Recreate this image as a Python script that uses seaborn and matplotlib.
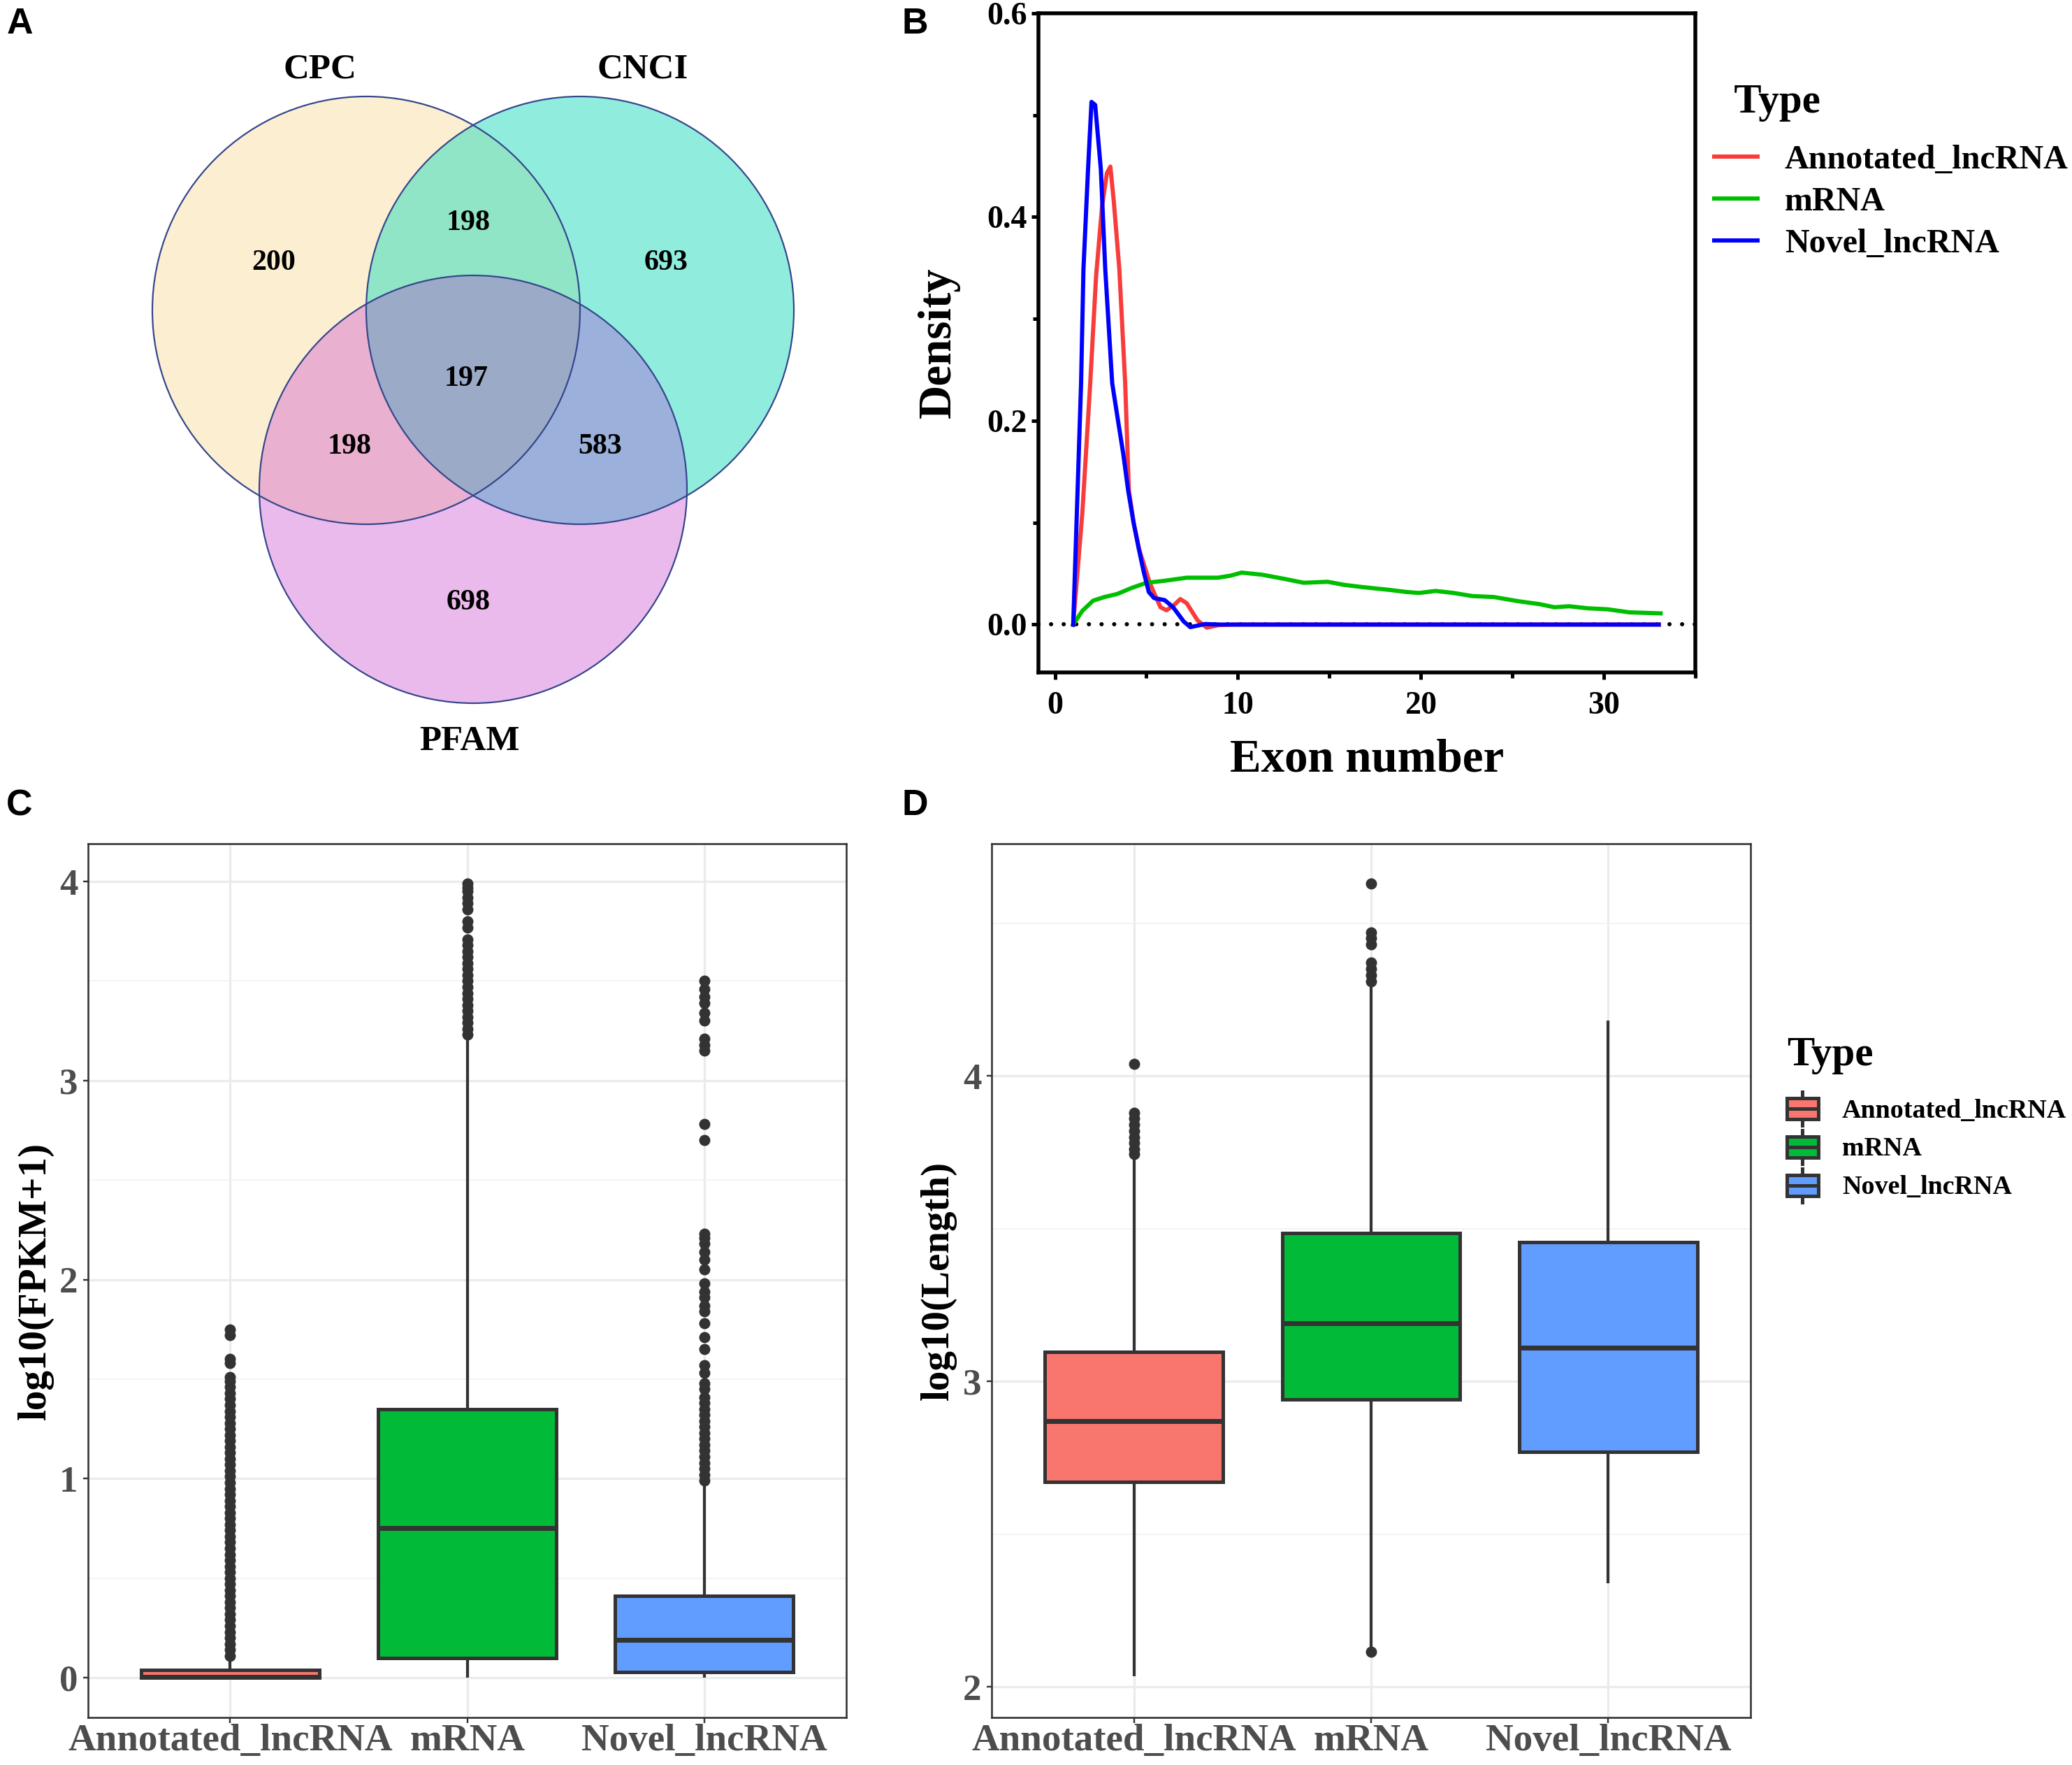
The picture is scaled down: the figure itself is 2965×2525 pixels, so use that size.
import numpy as np
import pandas as pd
import matplotlib
matplotlib.use("Agg")
import matplotlib.pyplot as plt
import seaborn as sns
from matplotlib.patches import Circle, Rectangle, Patch
from matplotlib.lines import Line2D
from matplotlib.legend_handler import HandlerBase
from matplotlib.ticker import MultipleLocator, FormatStrFormatter

# ---------------- data ----------------
types = ["Annotated_lncRNA", "mRNA", "Novel_lncRNA"]

# Panel A (Venn)
venn_set_names = ["CPC", "CNCI", "PFAM"]
venn_region_codes = ["100", "010", "001", "110", "101", "011", "111"]
venn_region_counts = [200, 693, 698, 198, 198, 583, 197]

# Panel B (exon number density)
annot_exon = [1.0, 1.5, 1.93, 2.25, 2.58, 2.84, 3.03, 3.22, 3.52, 3.84, 4.04, 4.3, 4.6,
              5.2, 5.77, 6.1, 6.5, 6.85, 7.2, 7.8, 8.3, 8.95, 9.9, 33.0]
annot_density = [0.0, 0.11, 0.237, 0.342, 0.411, 0.443, 0.4495, 0.415, 0.349, 0.237, 0.132,
                 0.10, 0.074, 0.040, 0.017, 0.014, 0.019, 0.025, 0.021, 0.004, -0.003,
                 -0.0005, 0.0, 0.0]
mrna_exon = [1.0, 1.5, 2.09, 2.7, 3.4, 4.2, 5.0, 6.0, 7.2, 8.9, 9.6, 10.2, 11.3, 12.5, 13.6,
             14.9, 15.8, 16.7, 18.3, 19.2, 19.9, 20.8, 21.8, 22.8, 24.0, 25.3, 26.5, 27.3,
             28.1, 29.1, 30.2, 31.4, 33.1]
mrna_density = [0.0, 0.0135, 0.0235, 0.027, 0.030, 0.036, 0.041, 0.043, 0.046, 0.046, 0.048,
                0.051, 0.049, 0.045, 0.041, 0.042, 0.039, 0.037, 0.034, 0.032, 0.031, 0.033,
                0.031, 0.028, 0.027, 0.023, 0.020, 0.017, 0.018, 0.016, 0.015, 0.012, 0.011]
novel_exon = [1.0, 1.43, 1.56, 1.81, 2.0, 2.2, 2.51, 2.75, 2.95, 3.13, 3.45, 3.74, 4.0, 4.3,
              4.6, 4.85, 5.13, 5.42, 6.0, 6.46, 7.04, 7.4, 8.2, 9.0, 33.0]
novel_density = [0.0, 0.237, 0.349, 0.447, 0.513, 0.51, 0.447, 0.349, 0.29, 0.237, 0.2, 0.167,
                 0.132, 0.10, 0.073, 0.052, 0.032, 0.026, 0.024, 0.017, 0.003, -0.0025,
                 0.0005, 0.0, 0.0]

# Panel C (log10(FPKM+1)) box statistics per type
fpkm_whisker_low = [0.0, 0.0, 0.0]
fpkm_q1 = [0.0, 0.10, 0.03]
fpkm_median = [0.003, 0.75, 0.19]
fpkm_q3 = [0.04, 1.35, 0.41]
fpkm_whisker_high = [0.095, 3.22, 0.975]
annot_fpkm_outliers = [0.11, 0.14, 0.17, 0.20, 0.23, 0.26, 0.29, 0.32, 0.35, 0.38, 0.41, 0.44,
                       0.47, 0.50, 0.53, 0.56, 0.59, 0.62, 0.65, 0.68, 0.71, 0.74, 0.77, 0.80,
                       0.83, 0.86, 0.89, 0.92, 0.95, 0.98, 1.01, 1.04, 1.07, 1.10, 1.13, 1.16,
                       1.19, 1.22, 1.25, 1.28, 1.31, 1.34, 1.37, 1.40, 1.43, 1.46, 1.49, 1.51,
                       1.58, 1.60, 1.72, 1.75]
mrna_fpkm_outliers = [3.23, 3.26, 3.29, 3.32, 3.35, 3.38, 3.41, 3.44, 3.47, 3.50, 3.53, 3.56,
                      3.59, 3.62, 3.65, 3.68, 3.71, 3.77, 3.80, 3.86, 3.89, 3.92, 3.95, 3.97,
                      3.99]
novel_fpkm_outliers = [0.99, 1.02, 1.05, 1.08, 1.11, 1.14, 1.17, 1.20, 1.23, 1.26, 1.29, 1.32,
                       1.35, 1.38, 1.41, 1.45, 1.48, 1.53, 1.57, 1.65, 1.71, 1.78, 1.84, 1.87,
                       1.91, 1.94, 1.98, 2.05, 2.10, 2.14, 2.18, 2.21, 2.23, 2.70, 2.78, 3.15,
                       3.18, 3.21, 3.30, 3.34, 3.39, 3.42, 3.46, 3.50]

# Panel D (log10(Length)) box statistics per type
len_whisker_low = [2.035, 2.13, 2.34]
len_q1 = [2.67, 2.94, 2.77]
len_median = [2.87, 3.19, 3.11]
len_q3 = [3.097, 3.485, 3.456]
len_whisker_high = [3.73, 4.30, 4.18]
annot_len_outliers = [3.745, 3.76, 3.78, 3.80, 3.82, 3.84, 3.86, 3.88, 4.04]
mrna_len_outliers = [2.115, 4.31, 4.33, 4.35, 4.37, 4.43, 4.45, 4.47, 4.63]
novel_len_outliers = []

# ---------------- style ----------------
W, H, DPI = 2965, 2525, 100
PT = 72.0 / DPI          # pixel -> point
SERIF = ["Liberation Serif", "DejaVu Serif"]
SANS = ["Liberation Sans", "DejaVu Sans"]
plt.rcParams["font.family"] = SERIF
plt.rcParams["font.weight"] = "bold"

line_colors = ["#F83B3B", "#00BE00", "#0000FF"]
box_colors = ["#F8766D", "#00BA38", "#619CFF"]
venn_colors = {"100": "#FCEFD1", "010": "#90EDDE", "001": "#EBBAED",
               "110": "#90E5C6", "101": "#EAB0CF", "011": "#9BB0DB", "111": "#9BAAC6"}
GRAY20 = "#333333"
GRAY30 = "#4D4D4D"

fig = plt.figure(figsize=(W / DPI, H / DPI), dpi=DPI)


def add_ax(l, t, r, b):
    return fig.add_axes([l / W, 1 - b / H, (r - l) / W, (b - t) / H])


# ---------------- panel A : Venn ----------------
axA = add_ax(0, 0, 1300, 1130)
axA.set_xlim(0, 1300)
axA.set_ylim(1130, 0)
axA.axis("off")
centers = [(524, 444), (830, 444), (677, 700)]
radius = 306
xs = np.arange(0, 1300) + 0.5
ys = np.arange(0, 1130) + 0.5
X, Y = np.meshgrid(xs, ys)
inside = [((X - cx) ** 2 + (Y - cy) ** 2) <= radius ** 2 for cx, cy in centers]
img = np.zeros((len(ys), len(xs), 4))
for code in venn_region_codes:
    mask = np.ones_like(X, dtype=bool)
    for k, ch in enumerate(code):
        mask &= inside[k] if ch == "1" else ~inside[k]
    img[mask] = matplotlib.colors.to_rgba(venn_colors[code])
axA.imshow(img, extent=(0, 1300, 1130, 0), interpolation="antialiased", aspect="auto", zorder=1)
for cx, cy in centers:
    axA.add_patch(Circle((cx, cy), radius, fill=False, ec="#34468C", lw=2.2 * PT, zorder=2))

label_pos = [(458, 100), (920, 100), (672, 1061)]
for name, (lx, ly) in zip(venn_set_names, label_pos):
    axA.text(lx, ly, name, ha="center", va="center", fontsize=51 * PT, fontweight="bold",
             family=SERIF)
count_pos = {"100": (392, 376), "010": (953, 376), "001": (670, 862), "110": (670, 319),
             "101": (500, 639), "011": (859, 639), "111": (667, 542)}
for code, cnt in zip(venn_region_codes, venn_region_counts):
    px, py = count_pos[code]
    axA.text(px, py, str(cnt), ha="center", va="center", fontsize=42 * PT, fontweight="bold",
             family=SERIF)

# ---------------- panel B : density ----------------
axB = add_ax(1486, 19, 2426, 962)
dfB = pd.concat([
    pd.DataFrame({"Type": types[0], "Exon": annot_exon, "Density": annot_density}),
    pd.DataFrame({"Type": types[1], "Exon": mrna_exon, "Density": mrna_density}),
    pd.DataFrame({"Type": types[2], "Exon": novel_exon, "Density": novel_density}),
], ignore_index=True)
axB.axhline(0, color="black", lw=6 * PT, ls=(0, (0.01, 3.0)), dash_capstyle="round", zorder=1)
sns.lineplot(data=dfB, x="Exon", y="Density", hue="Type", hue_order=types,
             palette=dict(zip(types, line_colors)), estimator=None, sort=False,
             lw=6 * PT, legend=False, ax=axB, zorder=3)
axB.set_xlim(-0.9, 35)
axB.set_ylim(-0.047, 0.6)
axB.xaxis.set_major_locator(MultipleLocator(10))
axB.xaxis.set_minor_locator(MultipleLocator(5))
axB.yaxis.set_major_locator(MultipleLocator(0.2))
axB.yaxis.set_minor_locator(MultipleLocator(0.1))
axB.yaxis.set_major_formatter(FormatStrFormatter("%.1f"))
for s in axB.spines.values():
    s.set_linewidth(5.5 * PT)
    s.set_color("black")
axB.tick_params(which="major", direction="out", length=10 * PT, width=5 * PT, color="black",
                labelsize=46 * PT, labelcolor="black")
axB.tick_params(which="minor", direction="out", length=8 * PT, width=5 * PT, color="black")
axB.tick_params(axis="x", which="major", pad=17 * PT)
axB.tick_params(axis="y", which="major", pad=6 * PT)
for lab in axB.get_xticklabels() + axB.get_yticklabels():
    lab.set_fontweight("bold")
axB.set_xlabel("Exon number", fontsize=67 * PT, fontweight="bold")
axB.set_ylabel("Density", fontsize=67 * PT, fontweight="bold")
axB.xaxis.set_label_coords(0.5, -0.10)
axB.yaxis.set_label_coords(-0.119, 0.5)
axB.grid(False)
line_handles = [Line2D([], [], color=c, lw=6 * PT) for c in line_colors]
legB = axB.legend(line_handles, types, title="  Type", loc="upper left",
                  bbox_to_anchor=(2453 / W, 1 - 120 / H), bbox_transform=fig.transFigure,
                  frameon=False, borderpad=0, borderaxespad=0,
                  prop=dict(family=SERIF, weight="bold", size=48 * PT),
                  title_fontproperties=dict(family=SERIF, weight="bold", size=59 * PT),
                  handlelength=1.3, handletextpad=0.8, labelspacing=0.33, alignment="left")
legB._legend_box.sep = 33 * PT


# ---------------- panels C and D : boxplots ----------------
def build_box_df(wlo, q1, med, q3, whi, outliers, n=1000):
    rows = []
    for t, a, b, c, d, e, o in zip(types, wlo, q1, med, q3, whi, outliers):
        vals = [a] + [b] * n + [c] * n + [d] * n + [e] + list(o)
        rows.append(pd.DataFrame({"Type": t, "value": vals}))
    return pd.concat(rows, ignore_index=True)


dfC = build_box_df(fpkm_whisker_low, fpkm_q1, fpkm_median, fpkm_q3, fpkm_whisker_high,
                   [annot_fpkm_outliers, mrna_fpkm_outliers, novel_fpkm_outliers])
dfD = build_box_df(len_whisker_low, len_q1, len_median, len_q3, len_whisker_high,
                   [annot_len_outliers, mrna_len_outliers, novel_len_outliers])

axC = add_ax(126, 1207, 1211, 2457)
axD = add_ax(1419, 1207, 2505, 2457)


def style_box_axes(ax, ylim, major, minor, ylabel):
    ax.set_xlim(-0.6, 2.6)
    ax.set_ylim(*ylim)
    ax.yaxis.set_major_locator(MultipleLocator(major))
    ax.yaxis.set_minor_locator(MultipleLocator(minor))
    ax.set_axisbelow(True)
    ax.grid(which="major", color="#EBEBEB", lw=3.2 * PT)
    ax.grid(which="minor", axis="y", color="#F2F2F2", lw=1.6 * PT)
    for s in ax.spines.values():
        s.set_linewidth(2.6 * PT)
        s.set_color(GRAY20)
    ax.tick_params(which="major", direction="out", length=7.5 * PT, width=2.4 * PT,
                   color=GRAY20, labelcolor=GRAY30)
    ax.tick_params(which="minor", length=0)
    ax.tick_params(axis="x", labelsize=55 * PT, pad=2 * PT)
    ax.tick_params(axis="y", labelsize=53 * PT, pad=7 * PT)
    ax.set_xticks([0, 1, 2])
    ax.set_xticklabels(types, fontweight="bold")
    for lab in ax.get_yticklabels():
        lab.set_fontweight("bold")
    ax.yaxis.set_major_formatter(FormatStrFormatter("%d"))
    ax.set_xlabel("")
    ax.set_ylabel(ylabel, fontsize=57 * PT, fontweight="bold", color="black")
    ax.yaxis.set_label_coords(-0.045, 0.5)


for ax, df in ((axC, dfC), (axD, dfD)):
    sns.boxplot(data=df, x="Type", y="value", hue="Type", order=types, hue_order=types,
                palette=dict(zip(types, box_colors)), saturation=1, width=0.75,
                linewidth=5 * PT, linecolor=GRAY20, fliersize=11.5, whis=1.5,
                legend=False, ax=ax, showcaps=False,
                flierprops=dict(marker="o", markerfacecolor=GRAY20, markeredgecolor=GRAY20,
                                markeredgewidth=0),
                medianprops=dict(linewidth=7 * PT, color=GRAY20),
                whiskerprops=dict(linewidth=4.2 * PT, color=GRAY20))

style_box_axes(axC, (-0.2, 4.19), 1, 0.5, "log10(FPKM+1)")
style_box_axes(axD, (1.9, 4.76), 1, 0.5, "log10(Length)")
axD.yaxis.set_label_coords(-0.046, 0.5)


class BoxKey(HandlerBase):
    def create_artists(self, legend, orig_handle, xdescent, ydescent, width, height,
                       fontsize, trans):
        fc = orig_handle.get_facecolor()
        x0, y0 = -xdescent, -ydescent
        lw = 5 * PT
        w_lo = Line2D([x0 + width / 2] * 2, [y0, y0 + 0.19 * height], color=GRAY20, lw=lw,
                      transform=trans)
        w_hi = Line2D([x0 + width / 2] * 2, [y0 + 0.81 * height, y0 + height], color=GRAY20,
                      lw=lw, transform=trans)
        rect = Rectangle((x0, y0 + 0.19 * height), width, 0.62 * height, facecolor=fc,
                         edgecolor=GRAY20, lw=lw, transform=trans)
        med = Line2D([x0, x0 + width], [y0 + 0.5 * height] * 2, color=GRAY20, lw=lw,
                     transform=trans)
        return [w_lo, w_hi, rect, med]


box_handles = [Patch(facecolor=c) for c in box_colors]
legD = axD.legend(box_handles, types, handler_map={Patch: BoxKey()}, title="Type",
                  loc="upper left", bbox_to_anchor=(2557 / W, 1 - 1483 / H),
                  bbox_transform=fig.transFigure, frameon=False, borderpad=0, borderaxespad=0,
                  prop=dict(family=SERIF, weight="bold", size=38 * PT),
                  title_fontproperties=dict(family=SERIF, weight="bold", size=59 * PT),
                  handlelength=1.18, handleheight=1.57, handletextpad=0.9, labelspacing=0.18,
                  alignment="left")
legD._legend_box.sep = 25 * PT

# ---------------- panel letters ----------------
for letter, (lx, ly) in zip("ABCD", [(28, 34), (1309, 34), (28, 1153), (1309, 1153)]):
    fig.text(lx / W, 1 - ly / H, letter, ha="center", va="center", fontsize=52 * PT,
             fontweight="bold", family=SANS)

fig.savefig("out.png", dpi=DPI)
